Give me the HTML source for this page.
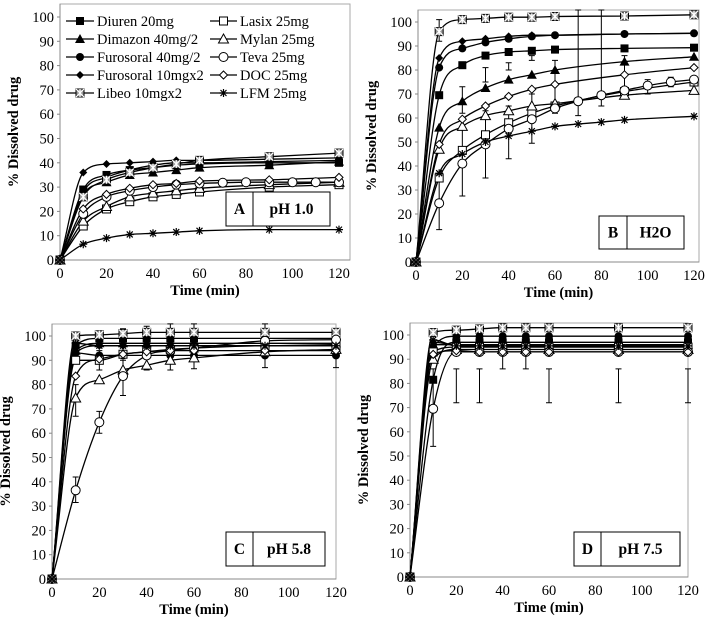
<!DOCTYPE html>
<html><head><meta charset="utf-8"><style>
html,body{margin:0;padding:0;background:#fff;}
svg{display:block;font-family:"Liberation Serif","Noto Serif CJK SC","DejaVu Serif",serif;}
svg text{font-family:"Liberation Serif","Noto Serif CJK SC","DejaVu Serif",serif;}
</style></head><body>
<svg id="s" width="716" height="627" viewBox="0 0 716 627" xmlns="http://www.w3.org/2000/svg"></svg>
<script>
const S=document.getElementById('s');let h='';
const FF='';
const T=[0,10,20,30,40,50,60,90,120];
function path(pts){const n=pts.length;const x=pts.map(p=>p[0]),y=pts.map(p=>p[1]);const d=[],m=[];
for(let i=0;i<n-1;i++)d[i]=(y[i+1]-y[i])/(x[i+1]-x[i]);
m[0]=d[0];m[n-1]=d[n-2];for(let i=1;i<n-1;i++){m[i]=(d[i-1]*d[i]<=0)?0:(d[i-1]+d[i])/2;}
for(let i=0;i<n-1;i++){if(d[i]===0){m[i]=0;m[i+1]=0;continue;}const a=m[i]/d[i],b=m[i+1]/d[i],s=a*a+b*b;if(s>9){const t=3/Math.sqrt(s);m[i]=t*a*d[i];m[i+1]=t*b*d[i];}}
let p='M'+x[0]+','+y[0];for(let i=0;i<n-1;i++){const hh=(x[i+1]-x[i])/3;p+=` C${(x[i]+hh).toFixed(1)},${(y[i]+m[i]*hh).toFixed(1)} ${(x[i+1]-hh).toFixed(1)},${(y[i+1]-m[i+1]*hh).toFixed(1)} ${x[i+1].toFixed(1)},${y[i+1].toFixed(1)}`;}return p;}
function mk(t,x,y){const r=4;switch(t){
case 'fs':return `<rect x="${x-r}" y="${y-r}" width="${2*r}" height="${2*r}" fill="#000"/>`;
case 'os':return `<rect x="${x-r}" y="${y-r}" width="${2*r}" height="${2*r}" fill="#fff" stroke="#000" stroke-width="1"/>`;
case 'ft':return `<polygon points="${x},${y-r-1} ${x+r+1},${y+r} ${x-r-1},${y+r}" fill="#000"/>`;
case 'ot':return `<polygon points="${x},${y-r-1} ${x+r+1},${y+r} ${x-r-1},${y+r}" fill="#fff" stroke="#000"/>`;
case 'fc':return `<circle cx="${x}" cy="${y}" r="${r}" fill="#000"/>`;
case 'oc':return `<circle cx="${x}" cy="${y}" r="${r+0.5}" fill="#fff" stroke="#000"/>`;
case 'fd':return `<polygon points="${x},${y-r} ${x+r},${y} ${x},${y+r} ${x-r},${y}" fill="#000"/>`;
case 'od':return `<polygon points="${x},${y-r} ${x+r},${y} ${x},${y+r} ${x-r},${y}" fill="#fff" stroke="#000"/>`;
case 'x':return `<rect x="${x-r}" y="${y-r}" width="${2*r}" height="${2*r}" fill="#999" stroke="#000"/><path d="M${x-r},${y-r}L${x+r},${y+r}M${x+r},${y-r}L${x-r},${y+r}M${x},${y-r}V${y+r}" stroke="#fff" stroke-width="1.2"/>`;
case 'st':return `<path d="M${x-r},${y}H${x+r}M${x-3},${y-3}L${x+3},${y+3}M${x+3},${y-3}L${x-3},${y+3}M${x},${y-r}V${y+r}" stroke="#000" stroke-width="1.2"/>`;}}
const M=['fs','ft','fc','fd','x','os','ot','oc','od','st'];
function panel(p){const X=t=>p.x0+t*(p.x120-p.x0)/120,Y=v=>p.y0-v*(p.y0-p.y100)/100;
h+=`<rect x="${p.fl}" y="${p.ft}" width="${p.fr-p.fl}" height="${p.y0-p.ft}" fill="none" stroke="#aaa" stroke-width="1"/>`;
h+=`<line x1="${p.fl}" y1="${p.ft}" x2="${p.fl}" y2="${p.y0}" stroke="#888"/><line x1="${p.fl}" y1="${p.y0}" x2="${p.fr}" y2="${p.y0}" stroke="#888"/>`;
for(let v=0;v<=100;v+=10){h+=`<text x="${p.fl-6}" y="${Y(v)+5}" font-size="14.5" text-anchor="end">${v}</text>`;h+=`<line x1="${p.fl-3}" x2="${p.fl}" y1="${Y(v)}" y2="${Y(v)}" stroke="#888"/>`;}
for(let t=0;t<=120;t+=20){h+=`<text x="${X(t)}" y="${p.y0+18}" font-size="14.5" text-anchor="middle">${t}</text>`;}
h+=`<text x="${(p.fl+p.fr)/2}" y="${p.y0+35}" font-size="14.5" font-weight="bold" text-anchor="middle">Time (min)</text>`;
const cy=(p.ft+p.y0)/2;h+=`<text transform="translate(${p.fl-42},${cy}) rotate(-90)" font-size="14.5" font-weight="bold" text-anchor="middle">% Dissolved drug</text>`;
(p.eb||[]).forEach(e=>{h+=`<path d="M${X(e[0])},${Y(e[1])}V${Y(e[2])}M${X(e[0])-3},${Y(e[1])}h6M${X(e[0])-3},${Y(e[2])}h6" stroke="#000" stroke-width="1"/>`;});
p.d.forEach((s,i)=>{const ts=s.t||T;const pts=s.v.map((v,j)=>[X(ts[j]),Y(v)]);h+=`<path d="${path(pts)}" fill="none" stroke="#000" stroke-width="1.3"/>`;});
p.d.forEach((s,i)=>{const ts=s.t||T;s.v.forEach((v,j)=>{h+=mk(M[i],X(ts[j]),Y(v));});});
const b=p.box;h+=`<rect x="${b[0]}" y="${b[1]}" width="${b[2]-b[0]}" height="${b[3]-b[1]}" fill="#fff" stroke="#000"/><line x1="${b[4]}" x2="${b[4]}" y1="${b[1]}" y2="${b[3]}" stroke="#000"/>`;
h+=`<text x="${(b[0]+b[4])/2}" y="${(b[1]+b[3])/2+5}" font-size="15.5" font-weight="bold" text-anchor="middle">${p.l1}</text><text x="${(b[4]+b[2])/2}" y="${(b[1]+b[3])/2+5}" font-size="15.5" font-weight="bold" text-anchor="middle">${p.l2}</text>`;}
const T13=[0,10,20,30,40,50,60,70,80,90,100,110,120],T11=[0,10,20,30,40,50,60,70,80,90,120];
panel({x0:60,x120:339,y0:260,y100:17,fl:60,ft:4,fr:350,box:[226,192,330,226,253],l1:'A',l2:'pH 1.0',d:[
{v:[0,29,35,37,38,39,39.5,40,40]},{v:[0,27,32,35,36,37,38,39,40.5]},{v:[0,28,34,37,39,40,40,40.5,41]},{v:[0,36,39.5,40,40.5,41,41,41.5,42]},{v:[0,26,33,36,38,39.5,41,42.5,44]},
{v:[0,14,21,24,26,27,28,30,31]},{v:[0,16,22,26,27.5,28.5,29.5,31,32]},{t:T13,v:[0,19,26,28.5,30,31,31.5,31.8,32,32,32,32,32]},{v:[0,21,27,29.5,31,31.5,32.5,33,34]},{v:[0,6.5,9,10.5,11,11.5,12,12.5,12.5]}]});
panel({x0:416,x120:694,y0:262,y100:22,fl:418,ft:10,fr:699,box:[599,216,684,249,627],l1:'B',l2:'H2O',
eb:[[10,13.5,35],[10,92,101],[20,27.5,55],[20,62,73],[30,35,63],[30,75,81],[40,43,65],[40,80,83],[50,49.5,70],[50,84,86],[60,62,84],[70,61,105],[80,65,105],[90,70,86],[100,70,76],[110,73,77]],d:[
{v:[0,69.5,82,86,87.5,88,88.5,89,89.3]},{v:[0,56,67,72.5,76,78,80,83.5,85.5]},{v:[0,81,89,91.5,93,94,94.5,95,95.3]},{v:[0,85,92,93,94,94.5,94.5,95,95.3]},{v:[0,96,101,101.5,102,102,102.3,102.5,103]},
{v:[0,35,46.5,53,58,62,65,71,75]},{v:[0,47,56.5,61,63,65,66,69.5,71.5]},{t:T13,v:[0,24.5,41,49,55.5,59.5,64,67,69.5,71.5,73.5,75,76]},{v:[0,49,59.5,65,69,72,74,78,81]},{t:T11,v:[0,37,45,50,52.5,54.5,56.5,57.5,58.3,59.2,60.7]}]});
panel({x0:52,x120:336,y0:579,y100:336,fl:52,ft:324,fr:336,box:[226,532,325,566,253],l1:'C',l2:'pH 5.8',
eb:[[10,31.5,42],[10,67,80],[20,60,69],[20,86,94],[30,75.5,90],[30,99,103],[40,86,104],[50,86,105],[60,86.5,105],[90,87,105],[120,87,102]],d:[
{v:[0,96,99,99,99,99,99,99,99]},{v:[0,94,97,97,97,97,97,97,97]},{v:[0,93,92,92,92,92,92,92,92]},{v:[0,93,96,96,96,96,96,96,96.5]},{v:[0,100,100.5,101,101.5,101.5,101.5,101.5,101.5]},
{v:[0,90,90,92.5,93.5,94.5,95,96,96]},{v:[0,74.5,82,86,88,90,91,93.5,94.5]},{v:[0,36.5,64.5,83.5,92,94,95,98,98.5]},{v:[0,83.5,90.5,92.5,93.5,94,94,94,94]},{v:[0,97,96,96,96,96,96,96,96]}]});
panel({x0:410,x120:688,y0:577,y100:335,fl:410,ft:323,fr:688,box:[574,532,680,566,601],l1:'D',l2:'pH 7.5',
eb:[[10,54,86],[20,72,86],[30,72,86],[40,86,93],[50,86,93],[60,72,86],[90,72,86],[120,72,86]],d:[
{v:[0,81.5,97,97,97,97,97,97,97]},{v:[0,96,96,96,96,96,96,96,96]},{v:[0,95,99.5,99.5,99.5,99.5,99.5,99.5,99.5]},{v:[0,97,96,96,96,96,96,96,96]},{v:[0,101,102,102.5,103,103,103,103,103]},
{v:[0,93,95,95,95,95,95,95,95]},{v:[0,90,94,94,94,94,94,94,94]},{v:[0,69.5,93,93,93,93,93,93,93]},{v:[0,92,93.5,93,93,93,93,93,93]},{v:[0,98,95.5,95.5,95.5,95.5,95.5,95.5,95.5]}]});
const L=[['Diuren 20mg',0],['Dimazon 40mg/2',1],['Furosoral 40mg/2',2],['Furosoral 10mgx2',3],['Libeo 10mgx2',4],['Lasix 25mg',5],['Mylan 25mg',6],['Teva 25mg',7],['DOC 25mg',8],['LFM 25mg',9]];
L.forEach((l,i)=>{const c=i<5?0:1,r=i%5,y=21+r*18,x1=c?210:66,x2=c?237:94;h+=`<line x1="${x1}" x2="${x2}" y1="${y}" y2="${y}" stroke="#000" stroke-width="1.3"/>`+mk(M[l[1]],(x1+x2)/2,y)+`<text x="${x2+3}" y="${y+5}" font-size="14.5">${l[0]}</text>`;});
S.innerHTML=h;
</script>
</body></html>
